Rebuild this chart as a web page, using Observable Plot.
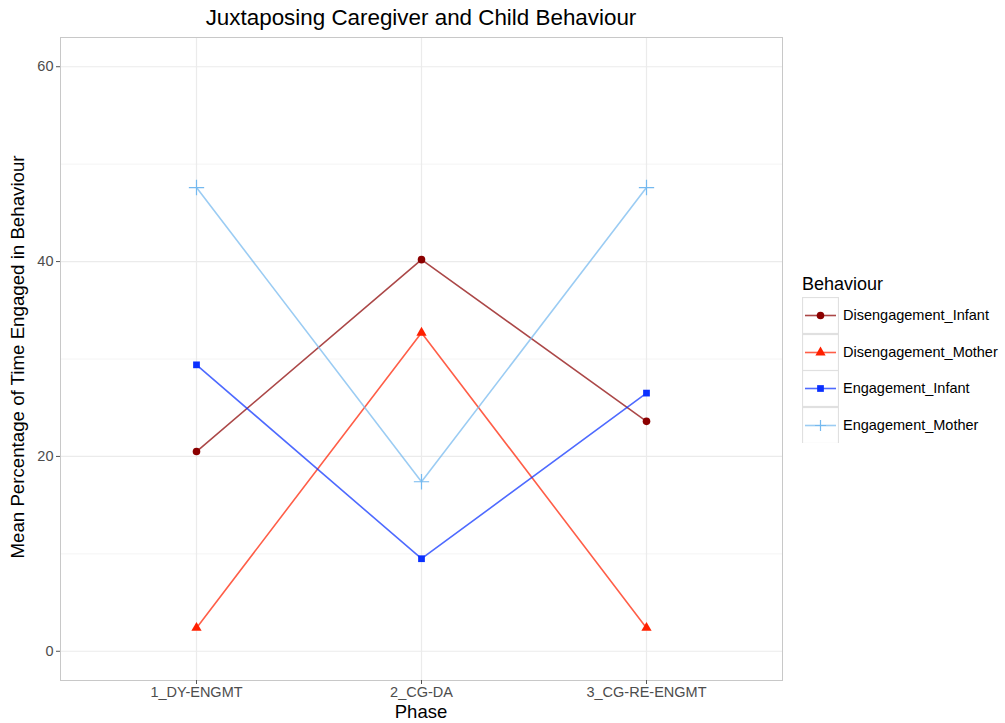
<!DOCTYPE html>
<html>
<head>
<meta charset="utf-8">
<script src="https://cdn.jsdelivr.net/npm/d3@7"></script>
<script src="https://cdn.jsdelivr.net/npm/@observablehq/plot@0.6"></script>
<style>
  body { margin: 0; background: white; font-family: "Liberation Sans", Arial, sans-serif; }
  #wrap { position: relative; width: 1005px; height: 723px; }
  .lbl { position: absolute; color: #000; white-space: nowrap; line-height: 1; }
</style>
</head>
<body>
<div id="wrap"></div>
<script>
const phases = ["1_DY-ENGMT", "2_CG-DA", "3_CG-RE-ENGMT"];
const series = ["Disengagement_Infant", "Disengagement_Mother", "Engagement_Infant", "Engagement_Mother"];
const disengagementInfant = [20.5, 40.2, 23.6];
const disengagementMother = [2.4, 32.7, 2.4];
const engagementInfant = [29.4, 9.5, 26.5];
const engagementMother = [47.6, 17.4, 47.6];
const yTicks = [0, 20, 40, 60];
const yMinor = [10, 30, 50];
const colors = ["#8b0000", "#ff2000", "#0a30ff", "#74b9ef"];
const symbols = ["circle", "triangle", "square", "plus"];

const valuesBySeries = [disengagementInfant, disengagementMother, engagementInfant, engagementMother];
const data = [];
series.forEach((s, i) => phases.forEach((p, j) => data.push({series: s, phase: p, value: valuesBySeries[i][j]})));

const font = "'Liberation Sans', Arial, sans-serif";
const chart = Plot.plot({
  width: 1005,
  height: 723,
  marginTop: 37,
  marginBottom: 43,
  marginLeft: 60,
  marginRight: 223,
  style: {fontFamily: font, fontSize: "14.5px", color: "#4d4d4d", background: "white", overflow: "visible"},
  x: {type: "point", domain: phases, padding: 0.6},
  y: {domain: [-3, 63]},
  color: {domain: series, range: colors},
  symbol: {domain: series, range: symbols},
  marks: [
    Plot.ruleY(yMinor, {stroke: "#f4f4f4", strokeWidth: 1}),
    Plot.ruleY(yTicks, {stroke: "#ebebeb", strokeWidth: 1.2}),
    Plot.ruleX(phases, {stroke: "#ebebeb", strokeWidth: 1.2}),
    Plot.frame({stroke: "#c8c8c8", strokeWidth: 1}),
    Plot.axisX({label: null, tickSize: 4, tickPadding: 2, stroke: "#555", fill: "#4d4d4d"}),
    Plot.axisY({ticks: yTicks, label: null, tickSize: 4, tickPadding: 3, stroke: "#555", fill: "#4d4d4d"}),
    Plot.line(data, {x: "phase", y: "value", z: "series", stroke: "series", strokeOpacity: 0.72, strokeWidth: 1.6}),
    Plot.dot(data.filter(d => d.series !== "Engagement_Mother"), {x: "phase", y: "value", fill: "series", symbol: "series", r: 3.8, stroke: "none"}),
    Plot.dot(data.filter(d => d.series === "Engagement_Mother"), {x: "phase", y: "value", stroke: "series", symbol: "series", r: 5, strokeWidth: 1.2})
  ]
});

const wrap = document.getElementById("wrap");
wrap.appendChild(chart);

function addLabel(text, css) {
  const d = document.createElement("div");
  d.className = "lbl";
  d.textContent = text;
  Object.assign(d.style, css);
  wrap.appendChild(d);
  return d;
}
// Title
addLabel("Juxtaposing Caregiver and Child Behaviour", {left: "60px", width: "722px", textAlign: "center", top: "7px", fontSize: "22.4px"});
// X axis title
addLabel("Phase", {left: "60px", width: "722px", textAlign: "center", top: "703px", fontSize: "18.5px"});
// Y axis title
addLabel("Mean Percentage of Time Engaged in Behaviour", {left: "18px", top: "357px", fontSize: "18.7px", transform: "translate(-50%, -50%) rotate(-90deg)", transformOrigin: "center"});

// Legend
const legend = document.createElement("div");
Object.assign(legend.style, {position: "absolute", left: "802px", top: "274px"});
wrap.appendChild(legend);
const lt = document.createElement("div");
lt.textContent = "Behaviour";
Object.assign(lt.style, {fontSize: "18px", color: "#000", height: "23px", lineHeight: "20px"});
legend.appendChild(lt);
series.forEach((s, i) => {
  const row = document.createElement("div");
  Object.assign(row.style, {display: "flex", alignItems: "center", height: "36.5px"});
  const svg = d3.create("svg").attr("width", 37).attr("height", 36.5).style("display", "block");
  svg.append("rect").attr("x", 0.5).attr("y", 0.5).attr("width", 36).attr("height", 36)
    .attr("fill", "white").attr("stroke", "#e0e0e0").attr("stroke-width", 1.2);
  svg.append("line").attr("x1", 3).attr("x2", 34).attr("y1", 18.5).attr("y2", 18.5)
    .attr("stroke", colors[i]).attr("stroke-opacity", 0.72).attr("stroke-width", 1.6);
  const symMap = {circle: d3.symbolCircle, triangle: d3.symbolTriangle, square: d3.symbolSquare};
  if (symbols[i] === "plus") {
    svg.append("path").attr("d", "M13,18.5H24M18.5,13V24").attr("stroke", colors[i]).attr("stroke-width", 1.2).attr("fill", "none");
  } else {
    svg.append("path").attr("d", d3.symbol(symMap[symbols[i]], Math.PI * 3.8 * 3.8)())
      .attr("transform", "translate(18.5,18.5)").attr("fill", colors[i]);
  }
  row.appendChild(svg.node());
  const t = document.createElement("span");
  t.textContent = s;
  Object.assign(t.style, {fontSize: "14.5px", color: "#000", marginLeft: "4px"});
  row.appendChild(t);
  legend.appendChild(row);
});
</script>
</body>
</html>
